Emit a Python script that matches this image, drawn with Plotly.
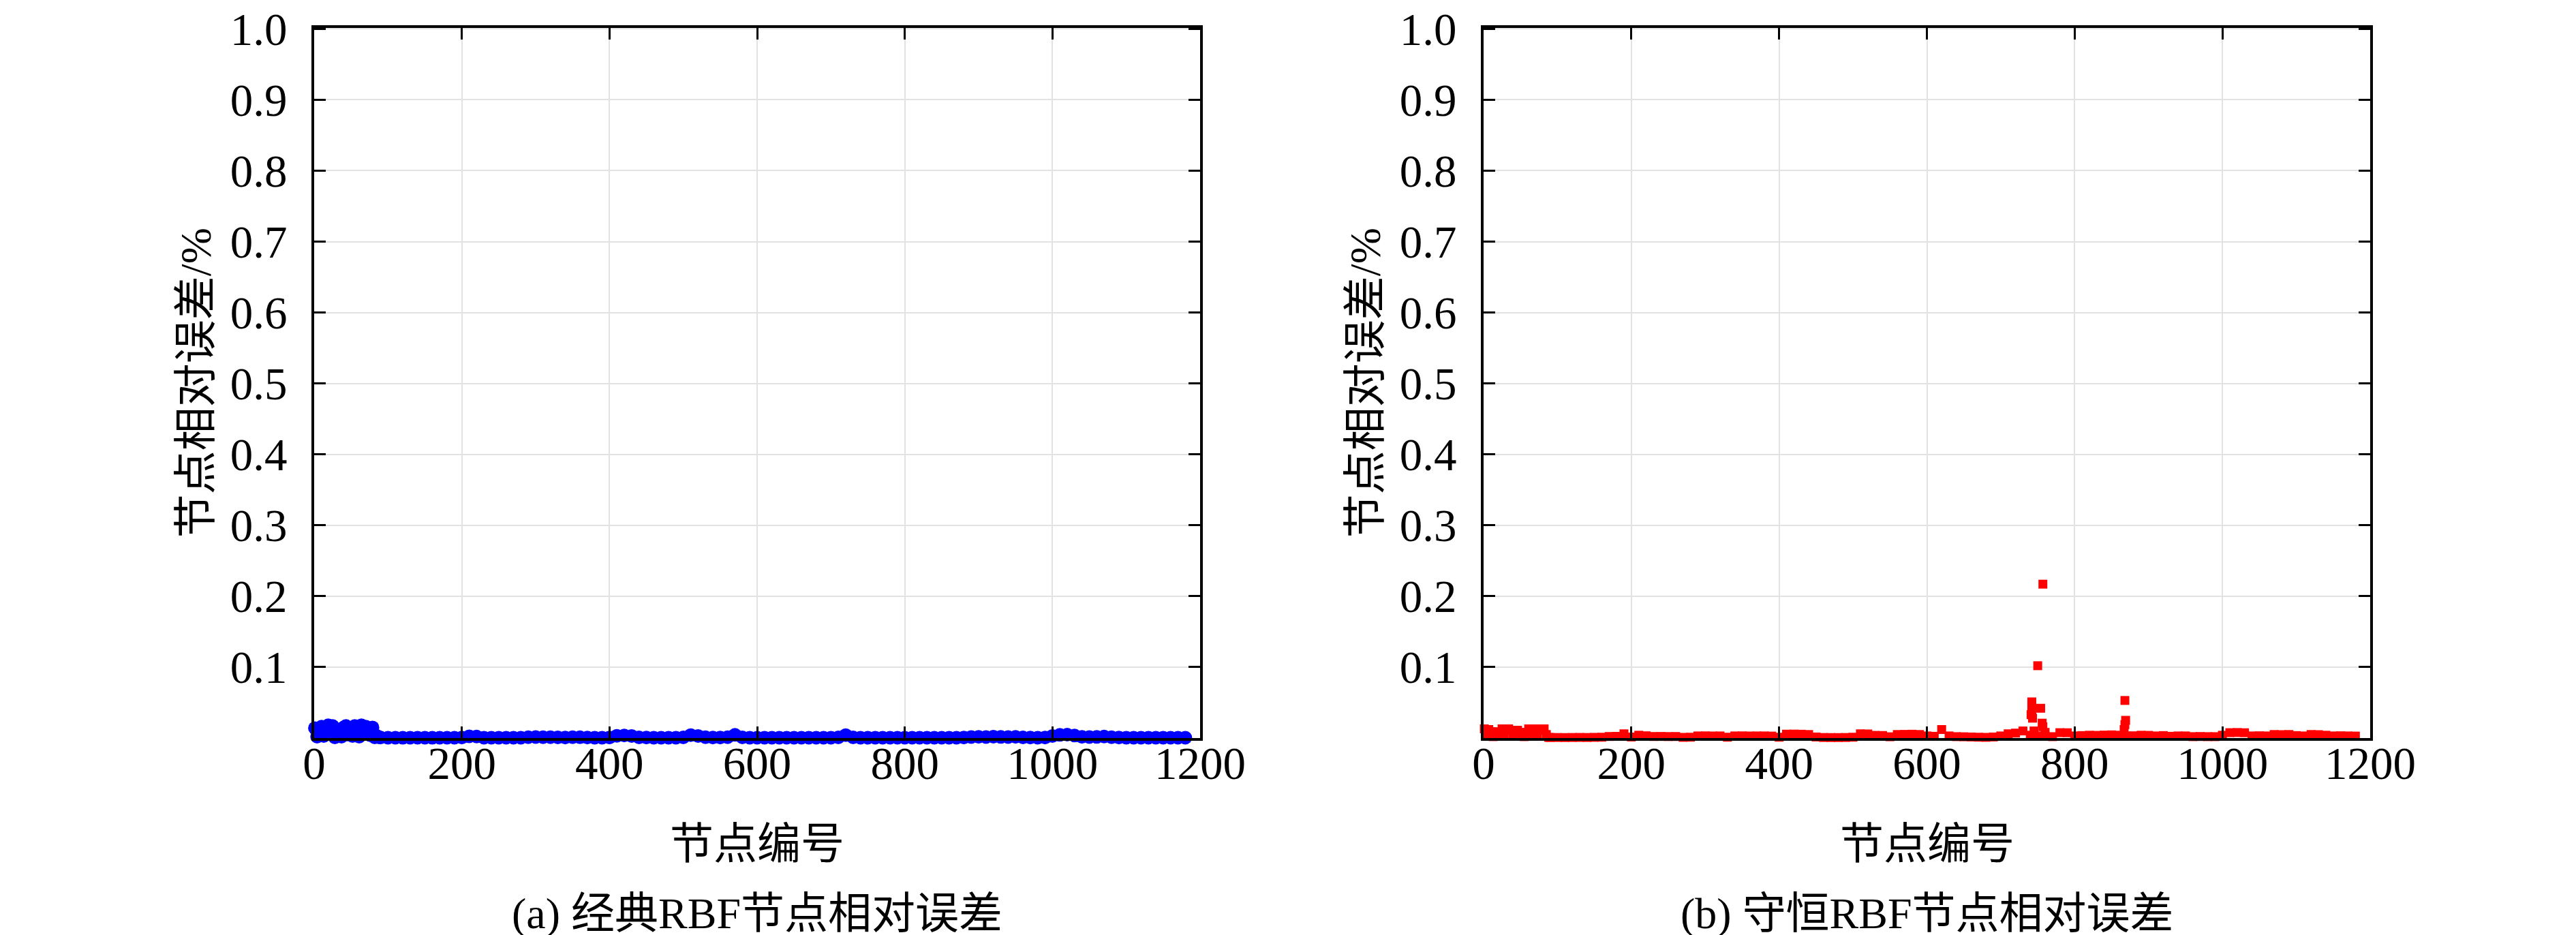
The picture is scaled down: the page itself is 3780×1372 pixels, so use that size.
import plotly.graph_objects as go

# canvas size of the reference picture
WIDTH, HEIGHT = 3780, 1372
FONT = "Liberation Serif, Times New Roman, Noto Sans CJK SC, serif"

# node numbers (x categories): dense head, then every 10th node
head_nodes = list(range(1, 89, 3))
body_nodes = list(range(90, 1181, 10))

# (a) classic RBF relative error, %
classic_head = [
    0.014, 0.002, 0.009, 0.016, 0.003, 0.011, 0.018, 0.006, 0.017, 0.001,
    0.012, 0.008, 0.002, 0.015, 0.017, 0.005, 0.010, 0.003, 0.017, 0.012,
    0.002, 0.018, 0.007, 0.016, 0.011, 0.004, 0.015, 0.001, 0.003, 0.001,
]
classic_body = [
    0.0008, 0.0005, 0.0005, 0.0004, 0.0005, 0.0006, 0.0005, 0.0004, 0.0005, 0.0005,
    0.0005, 0.0007, 0.0025, 0.0022, 0.0006, 0.0005, 0.0005, 0.0006, 0.0005, 0.0005,
    0.0012, 0.0014, 0.0012, 0.0013, 0.0010, 0.0008, 0.0012, 0.0011, 0.0007, 0.0006,
    0.0006, 0.0008, 0.0032, 0.0036, 0.0030, 0.0010, 0.0007, 0.0006, 0.0005, 0.0006,
    0.0006, 0.0010, 0.0042, 0.0030, 0.0012, 0.0007, 0.0008, 0.0012, 0.0045, 0.0010,
    0.0006, 0.0005, 0.0006, 0.0005, 0.0005, 0.0006, 0.0005, 0.0005, 0.0006, 0.0005,
    0.0005, 0.0006, 0.0010, 0.0042, 0.0010, 0.0005, 0.0005, 0.0006, 0.0005, 0.0005,
    0.0005, 0.0006, 0.0005, 0.0005, 0.0006, 0.0005, 0.0005, 0.0006, 0.0005, 0.0008,
    0.0015, 0.0018, 0.0014, 0.0020, 0.0016, 0.0014, 0.0017, 0.0010, 0.0007, 0.0006,
    0.0008, 0.0030, 0.0045, 0.0048, 0.0035, 0.0018, 0.0015, 0.0016, 0.0022, 0.0012,
    0.0008, 0.0006, 0.0006, 0.0005, 0.0006, 0.0005, 0.0006, 0.0005, 0.0005, 0.0005,
]

# (b) conservative RBF relative error, %
conserv_head = [
    0.013, 0.004, 0.012, 0.009, 0.002, 0.008, 0.009, 0.003, 0.013, 0.006,
    0.012, 0.013, 0.011, 0.004, 0.010, 0.011, 0.005, 0.008, 0.002, 0.008,
    0.013, 0.006, 0.012, 0.013, 0.003, 0.013, 0.011, 0.013, 0.005, 0.001,
]
conserv_body = [
    0.0008, 0.0008, 0.0007, 0.0008, 0.0009, 0.0008, 0.0010, 0.0012, 0.0022, 0.0024,
    0.0060, 0.0015, 0.0040, 0.0032, 0.0022, 0.0023, 0.0021, 0.0022, 0.0010, 0.0012,
    0.0030, 0.0031, 0.0029, 0.0030, 0.0012, 0.0030, 0.0031, 0.0029, 0.0030, 0.0030,
    0.0028, 0.0012, 0.0055, 0.0056, 0.0054, 0.0050, 0.0015, 0.0008, 0.0007, 0.0007,
    0.0008, 0.0012, 0.0060, 0.0058, 0.0038, 0.0036, 0.0018, 0.0050, 0.0052, 0.0054,
    0.0050, 0.0030, 0.0025, 0.0120, 0.0030, 0.0020, 0.0018, 0.0015, 0.0012, 0.0010,
    0.0015, 0.0030, 0.0060, 0.0070, 0.0100, 0.0040, 0.0030, 0.0025, 0.0020, 0.0076,
    0.0075, 0.0030, 0.0035, 0.0040, 0.0038, 0.0042, 0.0045, 0.0040, 0.0030, 0.0032,
    0.0040, 0.0038, 0.0030, 0.0035, 0.0025, 0.0030, 0.0030, 0.0020, 0.0022, 0.0020,
    0.0020, 0.0040, 0.0076, 0.0078, 0.0075, 0.0030, 0.0032, 0.0030, 0.0050, 0.0048,
    0.0050, 0.0035, 0.0030, 0.0050, 0.0048, 0.0040, 0.0030, 0.0032, 0.0030, 0.0028,
]
spike_nodes = [742, 742, 742, 741, 743, 745, 754, 756, 757, 750, 757, 760, 868, 869, 868, 867]
spike_values = [0.051, 0.045, 0.039, 0.033, 0.028, 0.010, 0.042, 0.021, 0.016, 0.102, 0.217,
                0.008, 0.053, 0.025, 0.019, 0.012]

x_ticks = [0, 200, 400, 600, 800, 1000, 1200]
y_ticks = [0.1, 0.2, 0.3, 0.4, 0.5, 0.6, 0.7, 0.8, 0.9, 1.0]
y_tick_text = ["0.1", "0.2", "0.3", "0.4", "0.5", "0.6", "0.7", "0.8", "0.9", "1.0"]

x_title = "节点编号"
y_title = "节点相对误差/%"
captions = ["(a) 经典RBF节点相对误差", "(b) 守恒RBF节点相对误差"]


def px_x(p: float) -> float:
    return p / WIDTH


def px_y(p: float) -> float:
    return 1 - p / HEIGHT


# plot boxes in pixels: (left, right), shared top/bottom
PANELS = [(453, 1753), (2169, 3470)]
TOP, BOTTOM = 33.3, 1075


def axis_style() -> dict:
    return dict(
        showline=True, linecolor="black", linewidth=4, mirror="ticks",
        ticks="inside", ticklen=17, tickwidth=3, tickcolor="black",
        showgrid=True, gridcolor="#e2e2e2", gridwidth=2, zeroline=False,
        automargin=False, ticklabeloverflow="allow",
        tickfont=dict(family=FONT, size=67, color="black"),
    )


fig = go.Figure()

fig.add_trace(go.Scatter(
    x=head_nodes + body_nodes, y=classic_head + classic_body, mode="markers",
    marker=dict(symbol="circle", size=20, color="#0000ff", line=dict(width=0)),
    cliponaxis=False, xaxis="x", yaxis="y", showlegend=False,
))
fig.add_trace(go.Scatter(
    x=head_nodes + body_nodes + spike_nodes, y=conserv_head + conserv_body + spike_values,
    mode="markers",
    marker=dict(symbol="square", size=13, color="#ff0000", line=dict(width=0)),
    cliponaxis=False, xaxis="x2", yaxis="y2", showlegend=False,
))

layout = dict(
    width=WIDTH, height=HEIGHT,
    margin=dict(l=0, r=0, t=0, b=0),
    paper_bgcolor="white", plot_bgcolor="white",
    font=dict(family=FONT, size=64, color="black"),
    annotations=[],
)
for i, (left, right) in enumerate(PANELS):
    suffix = "" if i == 0 else "2"
    xa = axis_style()
    xa.update(domain=[px_x(left), px_x(right)], range=[0, 1200], tickvals=x_ticks,
              ticklabelstandoff=-24, anchor="y" + suffix)
    ya = axis_style()
    ya.update(domain=[px_y(BOTTOM), px_y(TOP)], range=[0, 1.001], tickvals=y_ticks,
              ticktext=y_tick_text, ticklabelstandoff=22, anchor="x" + suffix)
    layout["xaxis" + suffix] = xa
    layout["yaxis" + suffix] = ya

    center = (left + right) / 2
    layout["annotations"] += [
        dict(text=x_title, x=px_x(center), y=px_y(1230), xref="paper", yref="paper",
             xanchor="center", yanchor="middle", showarrow=False, font=dict(size=64)),
        dict(text=captions[i], x=px_x(center), y=px_y(1332), xref="paper", yref="paper",
             xanchor="center", yanchor="middle", showarrow=False, font=dict(size=64)),
        dict(text=y_title, x=px_x(left - 174), y=px_y((TOP + BOTTOM) / 2), xref="paper",
             yref="paper", xanchor="center", yanchor="middle", textangle=-90,
             showarrow=False, font=dict(size=64)),
    ]

fig.update_layout(**layout)
fig.write_html("out.html")
